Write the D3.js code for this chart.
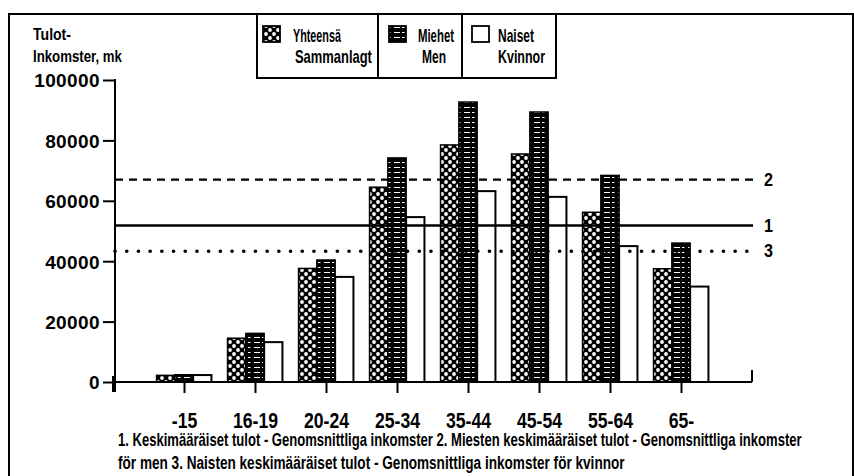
<!DOCTYPE html>
<html><head><meta charset="utf-8">
<script src="https://cdn.jsdelivr.net/npm/d3@7"></script>
<style>
html,body{margin:0;padding:0;background:#fff;}
svg{display:block;}
text{font-family:"Liberation Sans",Arial,sans-serif;font-weight:bold;fill:#000;}
</style></head>
<body>
<svg id="chart" width="854" height="476"></svg>
<script>
const categories = ["-15","16-19","20-24","25-34","35-44","45-54","55-64","65-"];
const totalValues = [2200, 14500, 37600, 64500, 78500, 75500, 56200, 37500];
const menValues   = [2400, 16100, 40400, 74200, 92700, 89400, 68400, 46000];
const womenValues = [2300, 13200, 34800, 54600, 63200, 61300, 45000, 31600];
const yTicks = [0, 20000, 40000, 60000, 80000, 100000];
const refLines = [
  {label:"2", value:67000, dash:"8,6", cap:"butt", width:2.2},
  {label:"1", value:51800, dash:null, cap:"butt", width:2.4},
  {label:"3", value:43300, dash:"0.1,11.6", cap:"round", width:3.6}
];
const seriesNames = [["Yhteensä","Sammanlagt"],["Miehet","Men"],["Naiset","Kvinnor"]];
const footLines = [
  "1. Keskimääräiset tulot - Genomsnittliga inkomster 2. Miesten keskimääräiset tulot - Genomsnittliga inkomster",
  "för men 3. Naisten keskimääräiset tulot -  Genomsnittliga inkomster för kvinnor"
];
const yTitle = ["Tulot-","Inkomster, mk"];

const svg = d3.select("#chart");

// squeeze a text horizontally to a target width (condensed plotter look)
function fit(sel, w){
  const n = sel.node();
  const L = n.getComputedTextLength();
  const x = +sel.attr("x"), yy = +sel.attr("y");
  const k = w / L;
  sel.attr("x",0).attr("y",0).attr("transform",`translate(${x},${yy}) scale(${k},1)`);
}

const defs = svg.append("defs");
const p1 = defs.append("pattern").attr("id","patTotal").attr("patternUnits","userSpaceOnUse")
  .attr("width",8).attr("height",8);
p1.append("rect").attr("width",8).attr("height",8).attr("fill","#000");
p1.append("circle").attr("cx",2).attr("cy",2).attr("r",1.9).attr("fill","#fff");
p1.append("circle").attr("cx",6).attr("cy",6).attr("r",1.9).attr("fill","#fff");
const p2 = defs.append("pattern").attr("id","patMen").attr("patternUnits","userSpaceOnUse")
  .attr("width",14).attr("height",5);
p2.append("rect").attr("width",14).attr("height",5).attr("fill","#000");
p2.append("rect").attr("x",2).attr("y",2).attr("width",6).attr("height",1).attr("fill","#fff");
p2.append("rect").attr("x",10).attr("y",2).attr("width",2.5).attr("height",1).attr("fill","#fff");
const fills = ["url(#patTotal)","url(#patMen)","#fff"];

// frame
svg.append("path").attr("d","M9,490 L9,14 L853,14 L853,490").attr("fill","none")
  .attr("stroke","#000").attr("stroke-width",2);

const y = d3.scaleLinear().domain([0,100000]).range([382,80]);
const x = d3.scalePoint().domain(categories).range([113,752]).padding(1);
const barW = 18.3;

// bars
const data = categories.map((c,i)=>({c, vals:[totalValues[i],menValues[i],womenValues[i]]}));
const groups = svg.append("g").selectAll("g").data(data).join("g");
groups.selectAll("rect").data(d=>d.vals.map((v,k)=>({c:d.c,v,k}))).join("rect")
  .attr("x",d=>x(d.c)-1.5*barW + d.k*barW)
  .attr("y",d=>y(d.v))
  .attr("width",barW)
  .attr("height",d=>y(0)-y(d.v))
  .attr("fill",d=>fills[d.k])
  .attr("stroke","#000").attr("stroke-width",d=>d.k===2?2:1.5);

// reference lines
const xr0 = 115, xr1 = 753;
refLines.forEach(r=>{
  const ln = svg.append("line").attr("x1",xr0).attr("x2",xr1)
    .attr("y1",y(r.value)).attr("y2",y(r.value))
    .attr("stroke","#000").attr("stroke-width",r.width).attr("stroke-linecap",r.cap);
  if(r.dash) ln.attr("stroke-dasharray",r.dash);
  const t = svg.append("text").attr("x",764).attr("y",y(r.value)+6).attr("font-size",19).text(r.label);
  fit(t, 9);
});

// y axis
const yAxis = d3.axisLeft(y).tickValues(yTicks).tickSize(12).tickSizeOuter(0).tickPadding(3)
  .tickFormat(d3.format("d"));
const yg = svg.append("g").attr("transform","translate(115,0)").call(yAxis);
yg.select(".domain").remove();
yg.selectAll(".tick line").attr("stroke-width",2);
yg.selectAll(".tick text").attr("font-family","Liberation Sans, sans-serif").attr("font-weight","bold")
  .attr("font-size",19).attr("dy","0.36em").style("letter-spacing","0.4px");
svg.append("line").attr("x1",115).attr("x2",115).attr("y1",y(100000)-1).attr("y2",392)
  .attr("stroke","#000").attr("stroke-width",2);

// x axis
const xAxis = d3.axisBottom(x).tickSize(11).tickSizeOuter(0).tickPadding(16);
const xg = svg.append("g").attr("transform",`translate(0,${y(0)})`).call(xAxis);
xg.select(".domain").remove();
xg.selectAll(".tick line").attr("stroke-width",2);
xg.selectAll(".tick text").attr("font-size",22).attr("dy",null).attr("y",0)
  .attr("font-family","Liberation Sans, sans-serif").attr("font-weight","bold")
  .attr("transform","translate(0,46) scale(0.8,1)");
svg.append("line").attr("x1",113).attr("x2",752).attr("y1",y(0)).attr("y2",y(0))
  .attr("stroke","#000").attr("stroke-width",2);
svg.append("line").attr("x1",113).attr("x2",113).attr("y1",y(0)-6).attr("y2",y(0)+10)
  .attr("stroke","#000").attr("stroke-width",2);
svg.append("line").attr("x1",752).attr("x2",752).attr("y1",y(0)-12).attr("y2",y(0))
  .attr("stroke","#000").attr("stroke-width",2);

// y title
fit(svg.append("text").attr("x",33).attr("y",40).attr("font-size",17).text(yTitle[0]), 38);
fit(svg.append("text").attr("x",33).attr("y",62).attr("font-size",17).text(yTitle[1]), 89);

// legend
const legBoxes = [[257,378],[378,462],[462,556]];
const swX = [263,389,472];
const legW = [[48,77],[36,24],[36,47]];
const legX2 = [[293,295],[418,422],[498,498]];
const lg = svg.append("g");
legBoxes.forEach((b,i)=>{
  lg.append("path").attr("d",`M${b[0]},14 L${b[0]},78 L${b[1]},78 L${b[1]},14`)
    .attr("fill","none").attr("stroke","#000").attr("stroke-width",2);
  lg.append("rect").attr("x",swX[i]).attr("y",26).attr("width",17).attr("height",16)
    .attr("fill",fills[i]).attr("stroke","#000").attr("stroke-width",1.8);
  fit(lg.append("text").attr("x",legX2[i][0]).attr("y",42).attr("font-size",18).text(seriesNames[i][0]), legW[i][0]);
  fit(lg.append("text").attr("x",legX2[i][1]).attr("y",63).attr("font-size",18).text(seriesNames[i][1]), legW[i][1]);
});

// footnotes
fit(svg.append("text").attr("x",118).attr("y",446).attr("font-size",18).text(footLines[0]), 684);
fit(svg.append("text").attr("x",118).attr("y",469).attr("font-size",18).text(footLines[1]), 507);
</script>
</body></html>
